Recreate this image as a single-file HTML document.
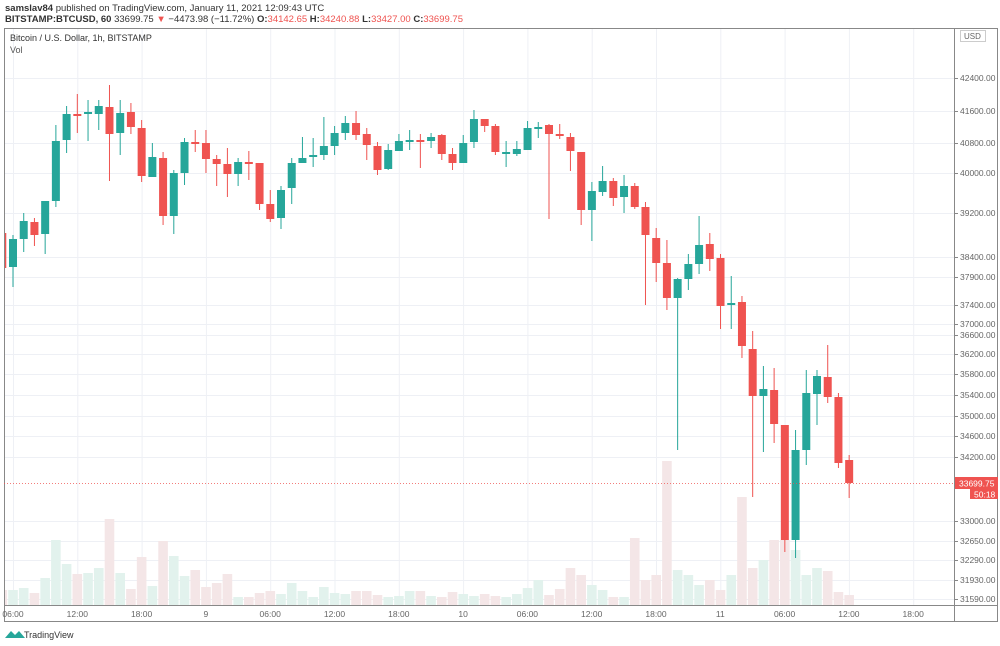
<!DOCTYPE html>
<html><head><meta charset="utf-8"><style>
body{margin:0;background:#fff;width:1000px;height:646px;overflow:hidden;font-family:"Liberation Sans",sans-serif;}
svg{position:absolute;left:0;top:0}
</style></head><body>
<svg id="s" width="1000" height="646" xmlns="http://www.w3.org/2000/svg" font-family="Liberation Sans, sans-serif">
<text x="5" y="11" font-size="9.5" fill="#333"><tspan font-weight="bold">samslav84</tspan> published on TradingView.com, January 11, 2021 12:09:43 UTC</text>
<text x="5" y="22" font-size="9.5" fill="#333"><tspan font-weight="bold">BITSTAMP:BTCUSD, 60</tspan>  33699.75 <tspan fill="#ef5350">▼</tspan> −4473.98 (−11.72%) <tspan font-weight="bold">O:</tspan><tspan fill="#ef5350">34142.65</tspan> <tspan font-weight="bold">H:</tspan><tspan fill="#ef5350">34240.88</tspan> <tspan font-weight="bold">L:</tspan><tspan fill="#ef5350">33427.00</tspan> <tspan font-weight="bold">C:</tspan><tspan fill="#ef5350">33699.75</tspan></text>
<g id="grid"></g>
<g id="vol"></g>
<g id="cdl"></g>
<rect x="4.5" y="28.5" width="993" height="593" fill="none" stroke="#888"/>
<line x1="954.5" y1="28" x2="954.5" y2="622" stroke="#888"/>
<line x1="4" y1="605.5" x2="998" y2="605.5" stroke="#888"/>
<text x="10" y="41" font-size="9" fill="#333">Bitcoin / U.S. Dollar, 1h, BITSTAMP</text>
<text x="10" y="53" font-size="9" fill="#555">Vol</text>
<g id="pl" font-size="8.5" fill="#666"></g>
<g id="tl" font-size="8.5" fill="#666"></g>
<line x1="4" y1="483.5" x2="954" y2="483.5" stroke="#ef5350" stroke-dasharray="1,2" stroke-width="0.8"/>
<rect x="955" y="477" width="43" height="12" fill="#ef5350"/>
<text x="959" y="486.5" font-size="8.5" fill="#fff">33699.75</text>
<rect x="970" y="489" width="28" height="10" fill="#ef5350"/>
<text x="974" y="497.5" font-size="8.5" fill="#fff">50:18</text>
<rect x="960.5" y="30.5" width="25" height="11" fill="#fff" stroke="#ccc"/>
<text x="964" y="39" font-size="8" fill="#666">USD</text>
<path d="M5 638 L11 631 L15 635 L19 631 L25 638 Z" fill="#26a69a"/>
<text x="24" y="638" font-size="9" fill="#333">TradingView</text>
</svg>
<script>
var NS="http://www.w3.org/2000/svg";
function el(p,t,a,txt){var e=document.createElementNS(NS,t);for(var k in a)e.setAttribute(k,a[k]);if(txt)e.textContent=txt;document.getElementById(p).appendChild(e);}
var prices=[["42400.00",78],["41600.00",111],["40800.00",143],["40000.00",173],["39200.00",213],["38400.00",257],["37900.00",277],["37400.00",305],["37000.00",324],["36600.00",335],["36200.00",354],["35800.00",374],["35400.00",395],["35000.00",416],["34600.00",436],["34200.00",457],["33000.00",521],["32650.00",541],["32290.00",560],["31930.00",580],["31590.00",599]];
prices.forEach(function(p){el("grid","line",{x1:5,x2:954,y1:p[1]+.5,y2:p[1]+.5,stroke:"#eef0f5"});el("pl","line",{x1:955,x2:958,y1:p[1]+.5,y2:p[1]+.5,stroke:"#888"});el("pl","text",{x:960,y:p[1]+3},p[0]);});
el("pl","text",{x:960,y:37},"4");
var times=["06:00","12:00","18:00","9","06:00","12:00","18:00","10","06:00","12:00","18:00","11","06:00","12:00","18:00"];
times.forEach(function(t,i){var x=13+64.3*i;el("grid","line",{x1:x+.5,x2:x+.5,y1:29,y2:605,stroke:"#eef0f5"});el("tl","text",{x:x,y:617,"text-anchor":"middle"},t);});
var C=[[233,268,230,285],[267,239,235,287],[239,221,213,252],[222,235,218,246],[234,201,201,254],[201,141,125,207],[140,114,106,153],[114,114,94,133],[113,112,100,141],[114,106,100,130],[107,134,85,181],[133,113,100,155],[112,127,103,134],[128,176,120,182],[177,157,143,177],[158,216,152,225],[216,173,170,234],[173,142,138,185],[142,144,130,152],[143,159,130,173],[159,164,155,186],[164,174,148,197],[174,162,158,186],[162,163,151,180],[163,204,163,210],[204,219,190,222],[218,190,186,229],[188,163,158,204],[163,158,137,163],[157,155,138,167],[155,146,117,160],[146,133,126,155],[133,123,116,140],[123,135,111,140],[134,145,128,160],[146,170,142,175],[169,150,144,170],[151,141,134,151],[141,140,130,150],[140,141,134,168],[141,137,133,148],[135,154,134,160],[154,163,148,170],[163,143,135,163],[142,119,110,148],[119,126,119,132],[126,152,124,155],[154,152,141,167],[154,149,141,156],[150,128,121,150],[129,127,122,138],[125,134,124,219],[134,136,124,139],[137,151,133,171],[152,210,152,225],[210,191,182,241],[192,181,166,196],[181,198,178,206],[197,186,175,213],[186,207,183,209],[207,235,202,305],[238,263,228,282],[263,298,240,310],[298,279,278,450],[279,264,254,290],[264,245,216,274],[244,259,233,271],[258,306,254,329],[305,303,276,329],[302,346,296,358],[349,396,331,497],[396,389,366,452],[390,424,368,443],[425,540,425,552],[540,450,430,558],[450,393,370,465],[394,376,370,425],[377,397,345,403],[397,463,393,468],[460,483,455,498]];
var V=[590,590,588,593,578,540,564,574,573,568,519,573,589,557,586,541,556,576,570,587,583,574,597,597,593,591,594,583,591,597,587,593,594,591,591,595,597,596,591,591,596,597,592,594,596,594,596,597,594,588,580,595,589,568,575,585,590,597,597,538,580,575,461,570,575,585,580,590,575,497,568,560,540,540,550,575,568,571,592];
C.forEach(function(c,i){var k=i-1,x=13+10.72*k;var up=c[1]<c[0];var col=up?"#26a69a":"#ef5350";
var v=V[i]||595;var vx=Math.max(x-4.8,5);el("vol","rect",{x:vx,y:v,width:x+4.8-vx,height:605-v,fill:up?"#e2f2ed":"#f4e6e7"});
if(x<5){el("cdl","rect",{x:5,y:Math.min(c[0],c[1]),width:x+4-5,height:Math.abs(c[1]-c[0]),fill:col});return;}
el("cdl","rect",{x:x-0.5,y:c[2],width:1,height:c[3]-c[2],fill:col});
el("cdl","rect",{x:x-4,y:Math.min(c[0],c[1]),width:8,height:Math.max(2,Math.abs(c[1]-c[0])),fill:col});});
</script>
</body></html>
